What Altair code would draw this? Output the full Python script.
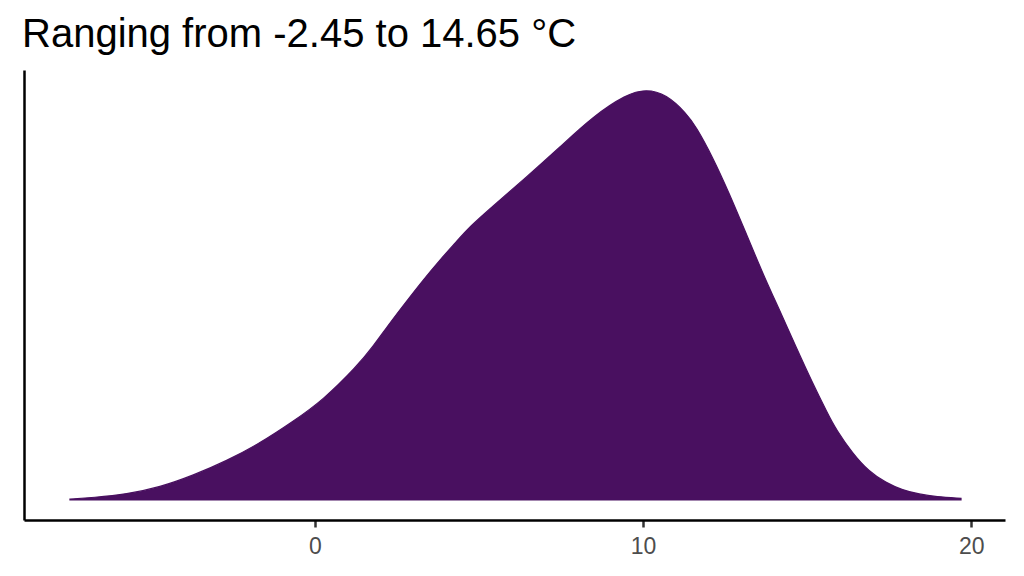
import altair as alt
import pandas as pd

# Temperature (°C) and relative density (peak = 1)
temp = [-7.46, -6.75, -5.73, -4.72, -3.70, -2.69, -1.67, -0.66, 0.25, 1.27,
        1.77, 2.28, 2.79, 3.30, 3.81, 4.31, 4.72, 5.43, 6.44, 7.46,
        8.47, 9.49, 10.10, 10.71, 11.32, 11.62, 12.12, 12.63, 13.14, 13.65,
        14.16, 14.66, 15.17, 15.63, 15.88, 16.39, 16.89, 17.40, 17.91, 18.42,
        18.93, 19.69]
density = [0.002, 0.006, 0.014, 0.031, 0.060, 0.095, 0.138, 0.191, 0.243, 0.324,
           0.373, 0.430, 0.483, 0.535, 0.584, 0.628, 0.665, 0.715, 0.785, 0.858,
           0.933, 0.987, 1.000, 0.987, 0.941, 0.908, 0.835, 0.746, 0.649, 0.551,
           0.462, 0.373, 0.284, 0.210, 0.172, 0.113, 0.069, 0.042, 0.024, 0.014,
           0.008, 0.004]
x_ticks = [0, 10, 20]
title_text = "Ranging from -2.45 to 14.65 °C"

df = pd.DataFrame({"temp": temp, "density": density})

FILL = "#491060"

chart = (
    alt.Chart(df)
    .mark_area(color=FILL, stroke=FILL, strokeWidth=1.2, interpolate="basis")
    .encode(
        x=alt.X(
            "temp:Q",
            scale=alt.Scale(domain=[-8.86, 21.03], nice=False, zero=False),
            axis=alt.Axis(
                values=x_ticks,
                title=None,
                grid=False,
                domainColor="black",
                domainWidth=2.5,
                tickColor="#333333",
                tickWidth=2.5,
                tickSize=7,
                labelFont="Liberation Sans",
                labelFontSize=23,
                labelColor="#4d4d4d",
                labelPadding=8,
            ),
        ),
        y=alt.Y(
            "density:Q",
            scale=alt.Scale(domain=[-0.0487, 1.0462], nice=False, zero=False),
            axis=alt.Axis(
                title=None,
                grid=False,
                labels=False,
                ticks=False,
                domainColor="black",
                domainWidth=2.5,
            ),
        ),
    )
    .properties(
        width=981,
        height=450,
        title=alt.TitleParams(
            text=title_text,
            font="Liberation Sans",
            fontSize=40,
            fontWeight="normal",
            color="black",
            anchor="start",
            frame="group",
            baseline="alphabetic",
            offset=34,
            dx=-2,
            dy=51,
        ),
        autosize=alt.AutoSizeParams(type="none"),
        padding={"left": 16, "top": 62, "right": 11, "bottom": 48},
    )
    .configure_view(stroke=None)
)

chart.save("out.html", embed_options={"renderer": "svg", "actions": False})
